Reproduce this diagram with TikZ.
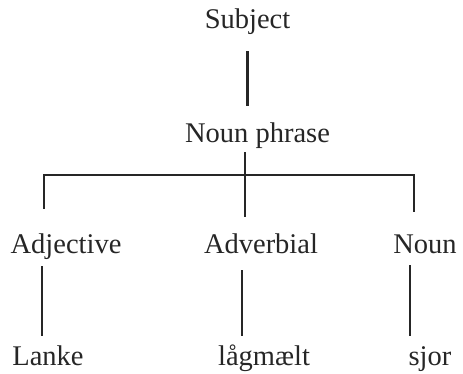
\documentclass[tikz,border=0pt]{standalone}
\usepackage{fontspec}
\setmainfont{Liberation Serif}

\begin{document}
\begin{tikzpicture}[
  x=1pt, y=1pt,
  word/.style={inner sep=0pt, anchor=base, text height=20pt, text depth=7pt, text=black!85, font=\fontsize{28.5}{30}\selectfont},
  link/.style={line width=2.6pt, draw=black!85}
]
\useasboundingbox (0,0) rectangle (463,373);

% Top section
\node[word] (subj) at (247.5,344) {Subject};
\node[word] (np) at (257.5,231) {Noun phrase};

% Branch points
\coordinate (bl) at (44,198);
\coordinate (bm) at (245,198);
\coordinate (br) at (414,198);

% Word classes
\node[word] (adj) at (66,120) {Adjective};
\node[word] (adv) at (261,120) {Adverbial};
\node[word] (noun) at (425,120) {Noun};

% Words
\node[word] (lanke) at (48,8) {Lanke};
\node[word] (lag) at (264,8) {lågmælt};
\node[word] (sjor) at (430,8) {sjor};

% Lines
\draw[link, shorten <=15pt, shorten >=16pt] (subj.south) -- (subj.south |- np.north);
\draw[link, shorten <=3pt] (np.south -| bm) -- (bm);
\draw[link, shorten <=24pt, shorten >=21pt] (bl |- adj.north) -- (bl) -- (br) -- (br |- noun.north);
\draw[link, shorten >=16pt] (bm) -- (bm |- adv.north);

\foreach \w/\l/\x/\s in {adj/lanke/42/6pt, adv/lag/242/10pt, noun/sjor/410/5pt} {
    \coordinate (col) at (\x,0);
    \draw[link, shorten <=\s, shorten >=9pt] (col |- \w.south) -- (col |- \l.north);
}

\end{tikzpicture}
\end{document}
